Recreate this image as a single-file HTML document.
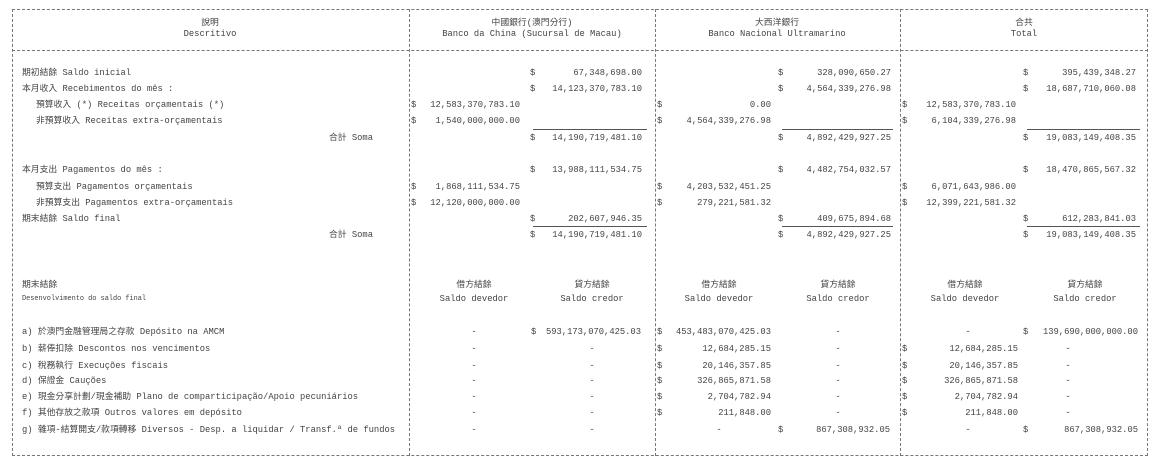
<!DOCTYPE html>
<html><head><meta charset="utf-8"><style>
body{margin:0;width:1154px;height:465px;background:#fff;position:relative;overflow:hidden;font-family:"Liberation Mono","Noto Sans CJK TC",monospace;font-size:8.8px;color:#444}
.a{position:absolute;white-space:nowrap;line-height:10px}
.c{position:absolute;white-space:nowrap;line-height:10px;transform:translateX(-50%)}
.v{position:absolute;border-left:1px dashed #777;width:0}
.h{position:absolute;border-top:1px dashed #777;height:0}
.u{position:absolute;border-top:1px solid #555;height:0}
</style></head><body>
<div class="h" style="left:12px;top:9px;width:1136px"></div>
<div class="h" style="left:12px;top:50px;width:1136px"></div>
<div class="h" style="left:12px;top:455px;width:1136px"></div>
<div class="v" style="left:12px;top:9px;height:447px"></div>
<div class="v" style="left:409px;top:9px;height:447px"></div>
<div class="v" style="left:655px;top:9px;height:447px"></div>
<div class="v" style="left:900px;top:9px;height:447px"></div>
<div class="v" style="left:1147px;top:9px;height:447px"></div>

<div class="c" style="left:210px;top:18px">說明</div>
<div class="c" style="left:210px;top:29px">Descritivo</div>
<div class="c" style="left:532px;top:18px">中國銀行(澳門分行)</div>
<div class="c" style="left:532px;top:29px">Banco da China (Sucursal de Macau)</div>
<div class="c" style="left:777px;top:18px">大西洋銀行</div>
<div class="c" style="left:777px;top:29px">Banco Nacional Ultramarino</div>
<div class="c" style="left:1024px;top:18px">合共</div>
<div class="c" style="left:1024px;top:29px">Total</div>

<div class="a" style="left:22px;top:68px">期初結餘 Saldo inicial</div>
<div class="a" style="left:22px;top:84px">本月收入 Recebimentos do mês :</div>
<div class="a" style="left:36px;top:100px">預算收入 (*)  Receitas orçamentais (*)</div>
<div class="a" style="left:36px;top:116px">非預算收入    Receitas extra-orçamentais</div>
<div class="a" style="left:329px;top:133px">合計 Soma</div>
<div class="a" style="left:22px;top:165px">本月支出 Pagamentos do mês :</div>
<div class="a" style="left:36px;top:182px">預算支出   Pagamentos orçamentais</div>
<div class="a" style="left:36px;top:198px">非預算支出 Pagamentos extra-orçamentais</div>
<div class="a" style="left:22px;top:214px">期末結餘 Saldo final</div>
<div class="a" style="left:329px;top:230px">合計 Soma</div>

<!-- BoC -->
<div class="a" style="left:530px;top:68px">$</div><div class="a" style="right:512px;top:68px">67,348,698.00</div>
<div class="a" style="left:530px;top:84px">$</div><div class="a" style="right:512px;top:84px">14,123,370,783.10</div>
<div class="a" style="left:411px;top:100px">$</div><div class="a" style="right:634px;top:100px">12,583,370,783.10</div>
<div class="a" style="left:411px;top:116px">$</div><div class="a" style="right:634px;top:116px">1,540,000,000.00</div>
<div class="u" style="left:533px;top:129px;width:114px"></div>
<div class="a" style="left:530px;top:133px">$</div><div class="a" style="right:512px;top:133px">14,190,719,481.10</div>
<div class="a" style="left:530px;top:165px">$</div><div class="a" style="right:512px;top:165px">13,988,111,534.75</div>
<div class="a" style="left:411px;top:182px">$</div><div class="a" style="right:634px;top:182px">1,868,111,534.75</div>
<div class="a" style="left:411px;top:198px">$</div><div class="a" style="right:634px;top:198px">12,120,000,000.00</div>
<div class="a" style="left:530px;top:214px">$</div><div class="a" style="right:512px;top:214px">202,607,946.35</div>
<div class="u" style="left:533px;top:226px;width:114px"></div>
<div class="a" style="left:530px;top:230px">$</div><div class="a" style="right:512px;top:230px">14,190,719,481.10</div>

<!-- BNU -->
<div class="a" style="left:778px;top:68px">$</div><div class="a" style="right:263px;top:68px">328,090,650.27</div>
<div class="a" style="left:778px;top:84px">$</div><div class="a" style="right:263px;top:84px">4,564,339,276.98</div>
<div class="a" style="left:657px;top:100px">$</div><div class="a" style="right:383px;top:100px">0.00</div>
<div class="a" style="left:657px;top:116px">$</div><div class="a" style="right:383px;top:116px">4,564,339,276.98</div>
<div class="u" style="left:782px;top:129px;width:111px"></div>
<div class="a" style="left:778px;top:133px">$</div><div class="a" style="right:263px;top:133px">4,892,429,927.25</div>
<div class="a" style="left:778px;top:165px">$</div><div class="a" style="right:263px;top:165px">4,482,754,032.57</div>
<div class="a" style="left:657px;top:182px">$</div><div class="a" style="right:383px;top:182px">4,203,532,451.25</div>
<div class="a" style="left:657px;top:198px">$</div><div class="a" style="right:383px;top:198px">279,221,581.32</div>
<div class="a" style="left:778px;top:214px">$</div><div class="a" style="right:263px;top:214px">409,675,894.68</div>
<div class="u" style="left:782px;top:226px;width:111px"></div>
<div class="a" style="left:778px;top:230px">$</div><div class="a" style="right:263px;top:230px">4,892,429,927.25</div>

<!-- Total -->
<div class="a" style="left:1023px;top:68px">$</div><div class="a" style="right:18px;top:68px">395,439,348.27</div>
<div class="a" style="left:1023px;top:84px">$</div><div class="a" style="right:18px;top:84px">18,687,710,060.08</div>
<div class="a" style="left:902px;top:100px">$</div><div class="a" style="right:138px;top:100px">12,583,370,783.10</div>
<div class="a" style="left:902px;top:116px">$</div><div class="a" style="right:138px;top:116px">6,104,339,276.98</div>
<div class="u" style="left:1027px;top:129px;width:113px"></div>
<div class="a" style="left:1023px;top:133px">$</div><div class="a" style="right:18px;top:133px">19,083,149,408.35</div>
<div class="a" style="left:1023px;top:165px">$</div><div class="a" style="right:18px;top:165px">18,470,865,567.32</div>
<div class="a" style="left:902px;top:182px">$</div><div class="a" style="right:138px;top:182px">6,071,643,986.00</div>
<div class="a" style="left:902px;top:198px">$</div><div class="a" style="right:138px;top:198px">12,399,221,581.32</div>
<div class="a" style="left:1023px;top:214px">$</div><div class="a" style="right:18px;top:214px">612,283,841.03</div>
<div class="u" style="left:1027px;top:226px;width:113px"></div>
<div class="a" style="left:1023px;top:230px">$</div><div class="a" style="right:18px;top:230px">19,083,149,408.35</div>

<!-- bottom section -->
<div class="a" style="left:22px;top:280px">期末結餘</div>
<div class="a" style="left:22px;top:294px;font-size:6.9px">Desenvolvimento do saldo final</div>
<div class="c" style="left:474px;top:280px">借方結餘</div><div class="c" style="left:474px;top:294px">Saldo devedor</div>
<div class="c" style="left:592px;top:280px">貸方結餘</div><div class="c" style="left:592px;top:294px">Saldo credor</div>
<div class="c" style="left:719px;top:280px">借方結餘</div><div class="c" style="left:719px;top:294px">Saldo devedor</div>
<div class="c" style="left:838px;top:280px">貸方結餘</div><div class="c" style="left:838px;top:294px">Saldo credor</div>
<div class="c" style="left:965px;top:280px">借方結餘</div><div class="c" style="left:965px;top:294px">Saldo devedor</div>
<div class="c" style="left:1085px;top:280px">貸方結餘</div><div class="c" style="left:1085px;top:294px">Saldo credor</div>

<div class="a" style="left:22px;top:327px">a) 於澳門金融管理局之存款 Depósito na AMCM</div>
<div class="a" style="left:22px;top:344px">b) 薪俸扣除 Descontos nos vencimentos</div>
<div class="a" style="left:22px;top:361px">c) 稅務執行 Execuções fiscais</div>
<div class="a" style="left:22px;top:376px">d) 保證金 Cauções</div>
<div class="a" style="left:22px;top:392px">e) 現金分享計劃/現金補助 Plano de comparticipação/Apoio pecuniários</div>
<div class="a" style="left:22px;top:408px">f) 其他存放之款項 Outros valores em depósito</div>
<div class="a" style="left:22px;top:425px">g) 雜項-結算開支/款項轉移 Diversos - Desp. a liquidar / Transf.ª de fundos</div>

<!-- BoC bottom -->
<div class="c" style="left:474px;top:327px">-</div><div class="a" style="left:531px;top:327px">$</div><div class="a" style="right:513px;top:327px">593,173,070,425.03</div>
<div class="c" style="left:474px;top:344px">-</div><div class="c" style="left:592px;top:344px">-</div>
<div class="c" style="left:474px;top:361px">-</div><div class="c" style="left:592px;top:361px">-</div>
<div class="c" style="left:474px;top:376px">-</div><div class="c" style="left:592px;top:376px">-</div>
<div class="c" style="left:474px;top:392px">-</div><div class="c" style="left:592px;top:392px">-</div>
<div class="c" style="left:474px;top:408px">-</div><div class="c" style="left:592px;top:408px">-</div>
<div class="c" style="left:474px;top:425px">-</div><div class="c" style="left:592px;top:425px">-</div>

<!-- BNU bottom -->
<div class="a" style="left:657px;top:327px">$</div><div class="a" style="right:383px;top:327px">453,483,070,425.03</div><div class="c" style="left:838px;top:327px">-</div>
<div class="a" style="left:657px;top:344px">$</div><div class="a" style="right:383px;top:344px">12,684,285.15</div><div class="c" style="left:838px;top:344px">-</div>
<div class="a" style="left:657px;top:361px">$</div><div class="a" style="right:383px;top:361px">20,146,357.85</div><div class="c" style="left:838px;top:361px">-</div>
<div class="a" style="left:657px;top:376px">$</div><div class="a" style="right:383px;top:376px">326,865,871.58</div><div class="c" style="left:838px;top:376px">-</div>
<div class="a" style="left:657px;top:392px">$</div><div class="a" style="right:383px;top:392px">2,704,782.94</div><div class="c" style="left:838px;top:392px">-</div>
<div class="a" style="left:657px;top:408px">$</div><div class="a" style="right:383px;top:408px">211,848.00</div><div class="c" style="left:838px;top:408px">-</div>
<div class="c" style="left:719px;top:425px">-</div><div class="a" style="left:778px;top:425px">$</div><div class="a" style="right:264px;top:425px">867,308,932.05</div>

<!-- Total bottom -->
<div class="c" style="left:968px;top:327px">-</div><div class="a" style="left:1023px;top:327px">$</div><div class="a" style="right:16px;top:327px">139,690,000,000.00</div>
<div class="a" style="left:902px;top:344px">$</div><div class="a" style="right:136px;top:344px">12,684,285.15</div><div class="c" style="left:1068px;top:344px">-</div>
<div class="a" style="left:902px;top:361px">$</div><div class="a" style="right:136px;top:361px">20,146,357.85</div><div class="c" style="left:1068px;top:361px">-</div>
<div class="a" style="left:902px;top:376px">$</div><div class="a" style="right:136px;top:376px">326,865,871.58</div><div class="c" style="left:1068px;top:376px">-</div>
<div class="a" style="left:902px;top:392px">$</div><div class="a" style="right:136px;top:392px">2,704,782.94</div><div class="c" style="left:1068px;top:392px">-</div>
<div class="a" style="left:902px;top:408px">$</div><div class="a" style="right:136px;top:408px">211,848.00</div><div class="c" style="left:1068px;top:408px">-</div>
<div class="c" style="left:968px;top:425px">-</div><div class="a" style="left:1023px;top:425px">$</div><div class="a" style="right:16px;top:425px">867,308,932.05</div>
</body></html>
